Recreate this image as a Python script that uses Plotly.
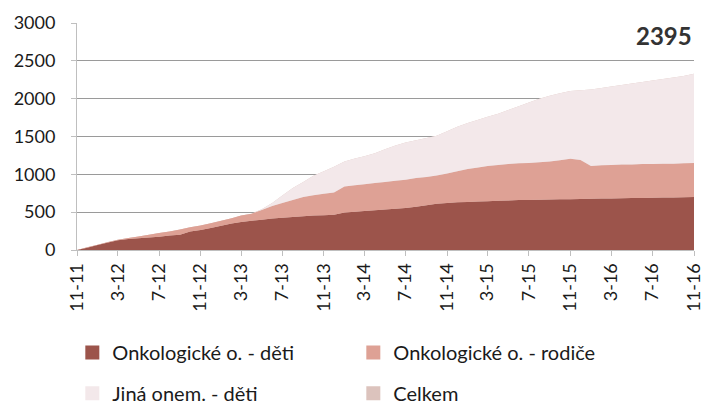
import pandas as pd
import plotly.graph_objects as go

# Monthly values, Nov 2011 .. Nov 2016 (61 months)
months = pd.date_range("2011-11-01", "2016-11-01", freq="MS")

onko_deti = [0, 30, 65, 100, 130, 145, 155, 165, 175, 190,
             200, 245, 265, 290, 320, 350, 370, 385, 400, 415,
             425, 435, 445, 455, 460, 465, 495, 505, 515, 525,
             535, 545, 555, 570, 590, 610, 620, 630, 635, 640,
             645, 650, 655, 660, 662, 665, 667, 670, 672, 675,
             677, 680, 682, 684, 686, 688, 690, 693, 695, 697, 700]

onko_rodice = [0, 5, 5, 5, 5, 15, 25, 35, 50, 55,
               70, 55, 60, 65, 65, 70, 85, 95, 130, 165,
               195, 225, 255, 270, 285, 295, 345, 350, 355, 360,
               365, 370, 375, 380, 375, 375, 390, 410, 435, 450,
               465, 475, 480, 485, 488, 495, 503, 515, 533, 515,
               433, 440, 443, 446, 444, 447, 445, 447, 445, 448, 450]

jina_deti = [0, 0, 0, 0, 0, 0, 0, 0, 0, 0,
             0, 0, 0, 0, 0, 0, 0, 0, 10, 40,
             100, 160, 200, 255, 295, 340, 330, 355, 370, 395,
             430, 465, 490, 500, 515, 525, 560, 590, 610, 630,
             650, 675, 715, 755, 800, 840, 870, 885, 895, 920,
             1010, 1020, 1035, 1050, 1070, 1085, 1105, 1120, 1140, 1155, 1180]

celkem = [0, 35, 70, 105, 135, 160, 180, 200, 225, 245,
          270, 300, 325, 355, 385, 420, 455, 480, 540, 620,
          720, 820, 900, 980, 1040, 1100, 1170, 1210, 1240, 1280,
          1330, 1380, 1420, 1450, 1480, 1510, 1570, 1630, 1680, 1720,
          1760, 1800, 1850, 1900, 1950, 2000, 2040, 2070, 2100, 2110,
          2120, 2140, 2160, 2180, 2200, 2220, 2240, 2260, 2280, 2300, 2330]

celkem_label = "2395"

tick_dates = ["2011-11-01", "2012-03-01", "2012-07-01", "2012-11-01", "2013-03-01",
              "2013-07-01", "2013-11-01", "2014-03-01", "2014-07-01", "2014-11-01",
              "2015-03-01", "2015-07-01", "2015-11-01", "2016-03-01", "2016-07-01",
              "2016-11-01"]
tick_labels = ["11-11", "3-12", "7-12", "11-12", "3-13", "7-13", "11-13", "3-14",
               "7-14", "11-14", "3-15", "7-15", "11-15", "3-16", "7-16", "11-16"]

names = ["Onkologické o. - děti", "Onkologické o. - rodiče", "Jiná onem. - děti", "Celkem"]
colors = ["#9c544b", "#dea195", "#f3e8ea", "#dcc3bd"]

FONT = "Lato"
fig = go.Figure()

# total underneath (covered by the stack)
fig.add_trace(go.Scatter(x=months, y=celkem, mode="none", fill="tozeroy",
                         fillcolor=colors[3], showlegend=False, name=names[3]))
for vals, nm, col in zip([onko_deti, onko_rodice, jina_deti], names[:3], colors[:3]):
    fig.add_trace(go.Scatter(x=months, y=vals, mode="none", stackgroup="one",
                             fillcolor=col, showlegend=False, name=nm))

# legend entries
for i, (nm, col) in enumerate(zip(names, colors)):
    fig.add_trace(go.Scatter(x=[None], y=[None], mode="markers", name=nm,
                             marker=dict(symbol="square", size=14, color=col),
                             legend="legend" if i < 2 else "legend2"))

fig.add_annotation(text=f"<b>{celkem_label}</b>", xref="paper", yref="paper",
                   x=1.0, y=0.947, xanchor="right", yanchor="middle", showarrow=False,
                   font=dict(family=FONT, size=24, color="#333333"))

leg_common = dict(orientation="h", xanchor="left", yanchor="top",
                  xref="container", yref="container", traceorder="normal",
                  font=dict(family=FONT, size=20, color="#1a1a1a"),
                  entrywidth=236, entrywidthmode="pixels",
                  bgcolor="rgba(0,0,0,0)", borderwidth=0)

fig.update_layout(
    width=709, height=412,
    margin=dict(l=77, r=15, t=23, b=162),
    plot_bgcolor="white", paper_bgcolor="white",
    font=dict(family=FONT, color="#1a1a1a"),
    legend=dict(x=0.102, y=0.192, **leg_common),
    legend2=dict(x=0.102, y=0.093, **leg_common),
    xaxis=dict(range=["2011-11-01", "2016-11-01"], tickvals=tick_dates,
               ticktext=tick_labels, tickangle=-90, ticks="outside", ticklen=5,
               tickcolor="#bfbfbf", showline=True, linecolor="#bfbfbf",
               showgrid=False, automargin=False,
               tickfont=dict(family=FONT, size=18, color="#1a1a1a")),
    yaxis=dict(range=[0, 3000], dtick=500, ticks="outside", ticklen=5,
               tickcolor="#bfbfbf", showline=True, linecolor="#bfbfbf",
               gridcolor="#9a9a9a", gridwidth=1, zeroline=False,
               ticklabelstandoff=12, automargin=False,
               tickfont=dict(family=FONT, size=18, color="#1a1a1a")),
)

fig.write_html("out.html", config={"displayModeBar": False},
               post_script="document.body.style.margin='0px';document.body.style.padding='0px';")
